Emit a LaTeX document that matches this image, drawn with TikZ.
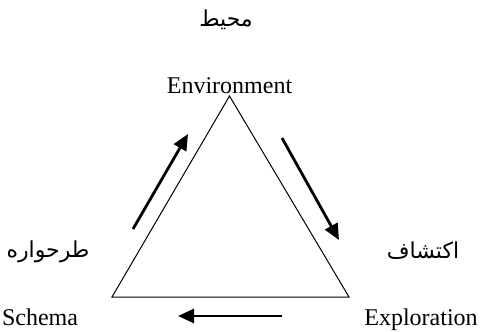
\documentclass[tikz,border=0pt]{standalone}
\usepackage{fontspec}
\setmainfont{Liberation Serif}
\newfontfamily\arabicfont[Script=Arabic]{DejaVu Sans}
\TeXXeTstate=1
\usetikzlibrary{arrows.meta}

\begin{document}
\begin{tikzpicture}
    [
        x=0.5pt, y=-0.5pt,
        word_node/.style={inner sep=0pt, anchor=base, font=\fontsize{12}{14}\selectfont},
        farsi_node/.style={inner sep=0pt, font=\arabicfont\fontsize{11}{13}\selectfont},
        edge_line/.style={line width=0.5pt, color=black},
        flow_arrow/.style={-{Triangle[length=8pt, width=7pt]}, line width=1.4pt, color=black},
    ]
        \useasboundingbox (0,0) rectangle (480,331);
        % corners of the triangle
        \coordinate (env) at (229.5,96);
        \coordinate (sch) at (112,297);
        \coordinate (exp) at (349,297);
        \draw[edge_line] (env) -- (exp) -- (sch) -- cycle;
        % labels
        \node[word_node] (env_txt) at (229.5,94) {Environment};
        \node[word_node] (sch_txt) at (40,325) {Schema};
        \node[word_node] (exp_txt) at (421,325) {Exploration};
        \node[farsi_node] (env_fa) at (226,20) {\beginR محیط\endR};
        \node[farsi_node] (sch_fa) at (48,252) {\beginR طرحواره\endR};
        \node[farsi_node] (exp_fa) at (423,251) {\beginR اکتشاف\endR};
        % arrows
        \coordinate (a1) at (133,229);
        \coordinate (a2) at (188,134);
        \coordinate (b1) at (282,138);
        \coordinate (b2) at (339,240);
        \coordinate (c1) at (282,316);
        \coordinate (c2) at (178,316);
        \draw[flow_arrow] (a1) -- (a2);
        \draw[flow_arrow] (b1) -- (b2);
        \draw[flow_arrow] (c1) -- (c2);
\end{tikzpicture}
\end{document}
